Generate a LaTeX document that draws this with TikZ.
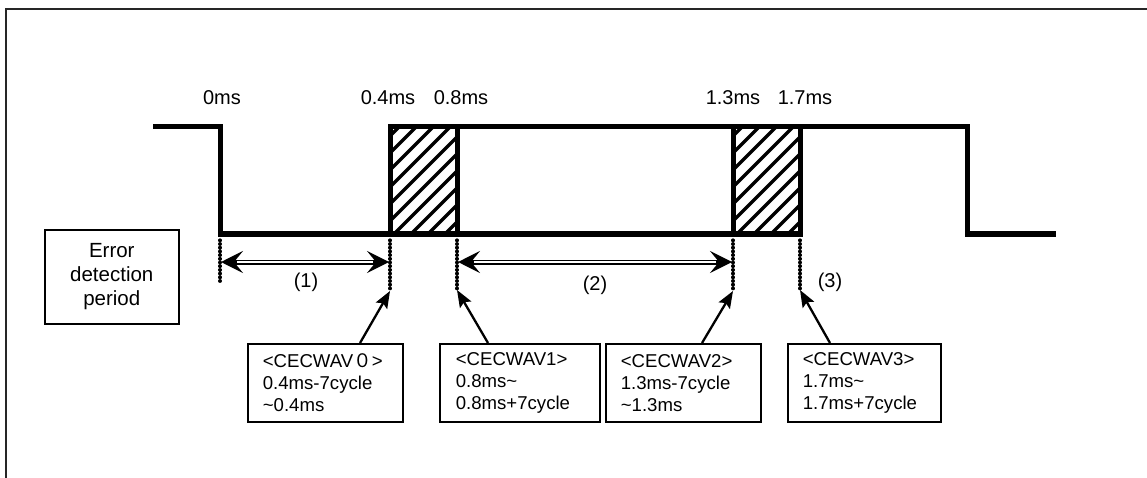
\documentclass[tikz,border=0pt]{standalone}
\usepackage{fontspec}
\setmainfont{Liberation Sans}
\newfontfamily\cjkf{Noto Sans CJK JP}
\usetikzlibrary{arrows.meta,calc}
\begin{document}
\begin{tikzpicture}[x=1pt,y=-1pt,
  wave/.style={line width=5pt, line join=miter, line cap=rect},
  hatchline/.style={line width=3.4pt},
  vdots/.style={line width=3.2pt, line cap=round, dash pattern=on 0.6pt off 3.1pt},
  dblshaft/.style={double, double distance=2pt, line width=1.5pt},
  dhead/.style={-{Stealth[length=22pt,width=22pt,inset=9pt]}, line width=1.5pt},
  ptr/.style={line width=2.3pt, -{Stealth[length=17pt,width=13pt,inset=3pt]}},
  lbl/.style={font=\fontsize{20}{24}\selectfont, inner sep=0pt},
  infobox/.style={draw, line width=1.6pt, anchor=north west, minimum height=78pt,
    inner xsep=15pt, inner ysep=0pt, align=left,
    font=\fontsize{18.6}{22}\selectfont},
  errbox/.style={draw, line width=1.6pt, anchor=north west, minimum width=134pt,
    minimum height=94pt, inner sep=0pt, align=center,
    font=\fontsize{20.5}{24}\selectfont},
]
\useasboundingbox (0,0) rectangle (1147,478);
% frame
\coordinate (fbl) at (6,480);
\coordinate (ftl) at (6,9);
\coordinate (ftr) at (1149,9);
\draw[line width=2pt, black!85] (fbl) -- (ftl) -- (ftr);

% waveform coordinates
\coordinate (st) at (155,127);
\coordinate (Ahi) at (220,127); \coordinate (Alo) at (220,234);
\coordinate (Bhi) at (390,127); \coordinate (Blo) at (390,234);
\coordinate (Chi) at (457,127); \coordinate (Clo) at (457,234);
\coordinate (Dhi) at (733,127); \coordinate (Dlo) at (733,234);
\coordinate (Ehi) at (800,127); \coordinate (Elo) at (800,234);
\coordinate (Fhi) at (967,127); \coordinate (Flo) at (967,234);
\coordinate (en) at (1053,234);

% hatching
\begin{scope}
\clip (Blo) rectangle (Chi);
\foreach \a in {-119,-102,...,80} \draw[hatchline] ({390+\a},238) -- ++(115,-115);
\end{scope}
\begin{scope}
\clip (Dlo) rectangle (Ehi);
\foreach \a in {-119,-102,...,80} \draw[hatchline] ({733+\a},238) -- ++(115,-115);
\end{scope}

\draw[wave] (st) -- (Ahi) -- (Alo) -- (Elo);
\draw[wave] (Blo) -- (Bhi) -- (Fhi) -- (Flo) -- (en);
\draw[wave] (Chi) -- (Clo);
\draw[wave] (Dhi) -- (Dlo);
\draw[wave] (Ehi) -- (Elo);

% time labels
\node[lbl] (l0) at (222,98) {0ms};
\node[lbl] (l1) at (388,98) {0.4ms};
\node[lbl] (l2) at (461,98) {0.8ms};
\node[lbl] (l3) at (733,98) {1.3ms};
\node[lbl] (l4) at (805,98) {1.7ms};

% dotted lines
\coordinate (dA0) at (220,240); \coordinate (dA1) at (220,283);
\coordinate (dB0) at (390,240); \coordinate (dB1) at (390,291);
\coordinate (dC0) at (457,240); \coordinate (dC1) at (457,290);
\coordinate (dD0) at (733,240); \coordinate (dD1) at (733,291);
\coordinate (dE0) at (800,240); \coordinate (dE1) at (800,290);
\draw[vdots] (dA0) -- (dA1);
\draw[vdots] (dB0) -- (dB1);
\draw[vdots] (dC0) -- (dC1);
\draw[vdots] (dD0) -- (dD1);
\draw[vdots] (dE0) -- (dE1);

% double arrows
\coordinate (a1l) at (221,262); \coordinate (a1r) at (389,262);
\coordinate (a2l) at (458,262); \coordinate (a2r) at (732,262);
\draw[dblshaft, shorten <=12pt, shorten >=12pt] (a1l) -- (a1r);
\draw[dhead] ($(a1l)+(16,0)$) -- (a1l);
\draw[dhead] ($(a1r)+(-16,0)$) -- (a1r);
\draw[dblshaft, shorten <=12pt, shorten >=12pt] (a2l) -- (a2r);
\draw[dhead] ($(a2l)+(16,0)$) -- (a2l);
\draw[dhead] ($(a2r)+(-16,0)$) -- (a2r);

\node[lbl] (n1) at (306,282) {(1)};
\node[lbl] (n2) at (595,285) {(2)};
\node[lbl] (n3) at (830,282) {(3)};

% boxes
\node[errbox] (err) at (44,229) {Error\\detection\\period};
\node[infobox, minimum width=155pt, text width=125pt] (b0) at (247,343)
  {<CECWAV{\cjkf ０}>\\0.4ms-7cycle\\\textasciitilde0.4ms};
\node[infobox, minimum width=160pt, text width=128pt, inner xsep=16pt] (b1) at (439,343)
  {<CECWAV1>\\0.8ms\textasciitilde\\0.8ms+7cycle};
\node[infobox, minimum width=155pt, text width=125pt] (b2) at (605,343)
  {<CECWAV2>\\1.3ms-7cycle\\\textasciitilde1.3ms};
\node[infobox, minimum width=153pt, text width=123pt] (b3) at (787,343)
  {<CECWAV3>\\1.7ms\textasciitilde\\1.7ms+7cycle};

% pointers
\draw[ptr] (b0.north west) ++(113,0) coordinate (p0) (p0) -- (dB1);
\draw[ptr] (b1.north west) ++(49,0) coordinate (p1) (p1) -- (dC1);
\draw[ptr] (b2.north west) ++(97,0) coordinate (p2) (p2) -- (dD1);
\draw[ptr] (b3.north west) ++(43,0) coordinate (p3) (p3) -- (dE1);
\end{tikzpicture}
\end{document}
